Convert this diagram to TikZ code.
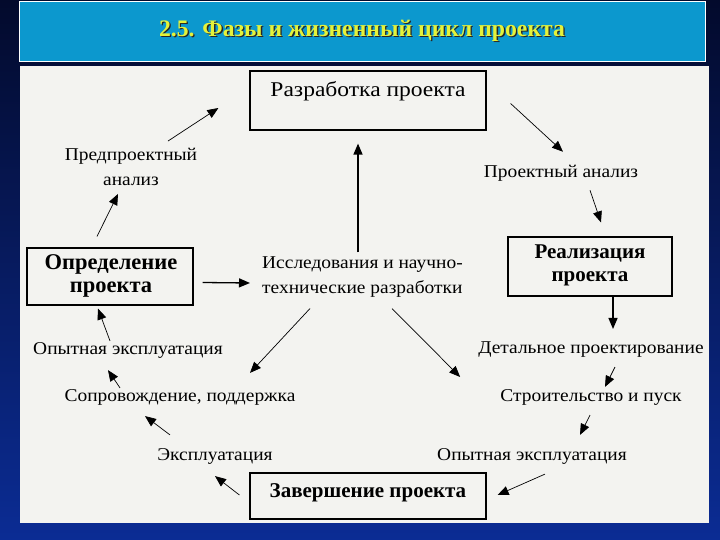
\documentclass[tikz,border=0pt]{standalone}
\usepackage{fontspec}
\setmainfont{Liberation Serif}
\newfontfamily\lblfont[FakeStretch=1.08]{Liberation Serif}
\newfontfamily\razfont[FakeStretch=1.12]{Liberation Serif}
\usetikzlibrary{arrows.meta,calc}
\definecolor{bgtop}{HTML}{030A2C}
\definecolor{bgbot}{HTML}{0B2C94}
\definecolor{barcol}{HTML}{0C98CE}
\definecolor{titlecol}{HTML}{E4F23A}
\definecolor{panelcol}{HTML}{F3F3F0}
\tikzset{
  lbl/.style={inner sep=0pt, font=\lblfont\fontsize{18}{25}\selectfont, align=center},
  boxframe/.style={draw=black, line width=1.2pt, fill=panelcol, inner sep=0pt},
  boxtxt/.style={inner sep=0pt, font=\razfont\fontsize{21}{23}\selectfont, align=center},
  boxbold/.style={inner sep=0pt, font=\bfseries\fontsize{21}{23}\selectfont, align=center},
  conn/.style={line width=0.7pt, -{Triangle[length=11pt,width=9pt]}},
  connthick/.style={line width=1.3pt, -{Triangle[length=11pt,width=9pt]}}
}
\begin{document}
\begin{tikzpicture}[x=1pt,y=-1pt]
\useasboundingbox (0,0) rectangle (720,540);
\shade[top color=bgtop, bottom color=bgbot] (0,0) rectangle (720,540);
% title bar
\node[draw=white, line width=0.8pt, fill=barcol, minimum width=686pt, minimum height=60pt, inner sep=0pt] (bar) at (362,31) {};
\node[text=black!85, font=\bfseries\fontsize{23.7}{26}\selectfont, inner sep=0pt] (titleshadow) at ($(bar.center)+(1.3,1.3)$) {2.5. Фазы и жизненный цикл проекта};
\node[text=titlecol, font=\bfseries\fontsize{23.7}{26}\selectfont, inner sep=0pt] (title) at (bar.center) {2.5. Фазы и жизненный цикл проекта};
% panel
\node[fill=panelcol, minimum width=689pt, minimum height=457pt, inner sep=0pt] (panel) at (364.5,294.5) {};
% boxes
\node[boxframe, minimum width=236pt, minimum height=59pt] (razr) at (368,100.5) {};
\node[boxtxt, anchor=base] (razrt) at ($(razr.north)+(0,26)$) {Разработка проекта};
\node[boxframe, minimum width=166pt, minimum height=57pt] (opred) at (110,276.5) {};
\node[boxbold, font=\bfseries\fontsize{22.5}{23}\selectfont] (opredt) at ($(opred.center)+(1,-1)$) {Определение\\проекта};
\node[boxframe, minimum width=164pt, minimum height=59pt] (real) at (590,266.5) {};
\node[boxbold] (realt) at ($(real.center)+(0,-1)$) {Реализация\\проекта};
\node[boxframe, minimum width=236pt, minimum height=46pt] (zav) at (368,496) {};
\node[boxbold, anchor=base] (zavt) at ($(zav.north)+(0,25)$) {Завершение проекта};
% labels
\node[lbl] (pred) at (131,167) {Предпроектный\\анализ};
\node[lbl] (proan) at (561,173) {Проектный анализ};
\node[lbl, anchor=west, align=left] (issl) at (262,277) {Исследования и научно-\\технические разработки};
\node[lbl] (opytl) at (128,350) {Опытная эксплуатация};
\node[lbl] (sopr) at (180,397) {Сопровождение, поддержка};
\node[lbl] (ekspl) at (215,456) {Эксплуатация};
\node[lbl] (detal) at (591,350) {Детальное проектирование};
\node[lbl] (stroi) at (591,397) {Строительство и пуск};
\node[lbl] (opytr) at (532,456) {Опытная эксплуатация};
% connectors
\draw[conn] ($(pred.north)+(37,-7)$) -- ($(razr.west)+(-31,7.5)$);
\draw[conn] ($(razr.east)+(24,3)$) -- ($(proan.north)+(2,-13)$);
\draw[conn] ($(proan.south)+(29,9)$) -- ($(real.north)+(11,-14)$);
\draw[connthick] ($(real.south)+(23,0)$) -- ($(detal.north)+(22,-13)$);
\draw[conn] ($(detal.south)+(24,9)$) -- ($(stroi.north)+(14,-2)$);
\draw[conn] ($(stroi.south)+(-1,10)$) -- ($(opytr.north)+(48,-13)$);
\draw[conn] ($(opytr.south)+(13,10)$) -- ($(zav.east)+(11,-1)$);
\draw[conn] ($(zav.west)+(-10,-1)$) -- ($(ekspl.south)+(0,12)$);
\draw[conn] ($(ekspl.north)+(-45,-13)$) -- ($(sopr.south)+(-35,11)$);
\draw[conn] ($(sopr.north)+(-60,-1)$) -- ($(opytl.south)+(-20,12)$);
\draw[conn] ($(opytl.north)+(-18,-1)$) -- ($(opred.south)+(-12,3)$);
\draw[conn] ($(opred.north)+(-13,-11)$) -- ($(pred.south)+(-13,8)$);
\draw[connthick] ($(opred.east)+(9,6)$) -- ($(issl.west)+(-12,6)$);
\draw[connthick] ($(issl.north -| razr.south)+(-10,-4)$) -- ($(razr.south)+(-10,13)$);
\draw[conn] ($(issl.south west)+(48,11)$) -- ($(sopr.north)+(70,-16)$);
\draw[conn] ($(issl.south west)+(130,11)$) -- ($(detal.west)+(-18,27)$);
\end{tikzpicture}
\end{document}
